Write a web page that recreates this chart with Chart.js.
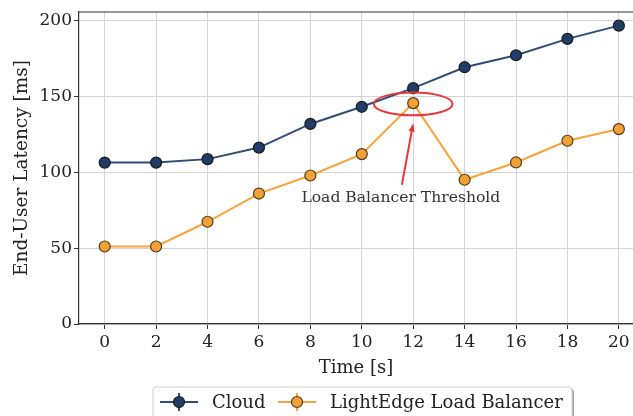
<!DOCTYPE html>
<html>
<head>
<meta charset="utf-8">
<script src="https://cdn.jsdelivr.net/npm/chart.js@4.4.1/dist/chart.umd.min.js"></script>
<style>
  html, body { margin: 0; padding: 0; background: #fff; }
  #wrap { width: 633px; height: 416px; position: relative; }
</style>
</head>
<body>
<div id="wrap"><canvas id="latencyChart"></canvas></div>
<script>
// ── Data ──
const times = [0, 2, 4, 6, 8, 10, 12, 14, 16, 18, 20];
const cloudLatency = [106.4, 106.4, 108.7, 116.3, 131.9, 143.2, 155.5, 169.3, 177.2, 188.0, 196.7];
const lightEdgeLatency = [51.1, 51.1, 67.4, 86.0, 97.9, 112.0, 145.6, 95.1, 106.5, 120.8, 128.5];
const xTicks = [0, 2, 4, 6, 8, 10, 12, 14, 16, 18, 20];
const yTicks = [0, 50, 100, 150, 200];
const seriesNames = ['Cloud', 'LightEdge Load Balancer'];
const annotationText = 'Load Balancer Threshold';

const FONT = "'DejaVu Serif', serif";
const TEXT = '#222';

const cloudStyle = { line: '#2f4d76', fill: '#1f3d66', edge: '#1a1a1a' };
const edgeStyle  = { line: '#f6a43c', fill: '#f3a035', edge: '#4d3b22' };

const toXY = (xs, ys) => xs.map((x, i) => ({ x: x, y: ys[i] }));

// ── Top spine ──
const frameBox = {
    id: 'frameBox',
    afterDraw(chart) {
        const { ctx, chartArea } = chart;
        ctx.save();
        ctx.strokeStyle = '#333';
        ctx.lineWidth = 1.2;
        ctx.beginPath();
        ctx.moveTo(chartArea.left, chartArea.top);
        ctx.lineTo(chartArea.right, chartArea.top);
        ctx.stroke();
        ctx.restore();
    }
};

// ── Threshold annotation: ellipse, arrow, label ──
const thresholdNote = {
    id: 'thresholdNote',
    afterDatasetsDraw(chart) {
        const { ctx, scales: { x, y } } = chart;
        ctx.save();
        ctx.strokeStyle = '#e8363a';
        ctx.fillStyle = '#e8363a';
        ctx.lineWidth = 2;

        // ellipse round the peak
        const cx = x.getPixelForValue(12), cy = y.getPixelForValue(145.1);
        const rx = (x.getPixelForValue(13.53) - x.getPixelForValue(10.47)) / 2;
        const ry = (y.getPixelForValue(137.6) - y.getPixelForValue(152.6)) / 2;
        ctx.beginPath();
        ctx.ellipse(cx, cy, rx, ry, 0, 0, Math.PI * 2);
        ctx.stroke();

        // arrow
        const x0 = x.getPixelForValue(11.56), y0 = y.getPixelForValue(91.8);
        const x1 = x.getPixelForValue(12.0), y1 = y.getPixelForValue(132.4);
        const ang = Math.atan2(y1 - y0, x1 - x0);
        const head = 9;
        ctx.beginPath();
        ctx.moveTo(x0, y0);
        ctx.lineTo(x1 - Math.cos(ang) * 4, y1 - Math.sin(ang) * 4);
        ctx.stroke();
        ctx.beginPath();
        ctx.moveTo(x1, y1);
        ctx.lineTo(x1 - head * Math.cos(ang - 0.35), y1 - head * Math.sin(ang - 0.35));
        ctx.lineTo(x1 - head * Math.cos(ang + 0.35), y1 - head * Math.sin(ang + 0.35));
        ctx.closePath();
        ctx.fill();

        // label
        ctx.fillStyle = '#333';
        ctx.font = `15.6px ${FONT}`;
        ctx.textAlign = 'center';
        ctx.textBaseline = 'middle';
        ctx.fillText(annotationText, x.getPixelForValue(11.52), y.getPixelForValue(83.2));
        ctx.restore();
    }
};

// ── Legend with errorbar-style handles ──
const boxLegend = {
    id: 'boxLegend',
    afterDraw(chart) {
        const { ctx } = chart;
        const left = 153, top = 387, right = 572, bottom = 424;
        ctx.save();
        // shadow
        ctx.fillStyle = 'rgba(0,0,0,0.35)';
        roundRect(ctx, left + 2, top + 2, right - left, bottom - top, 3);
        ctx.fill();
        ctx.fillStyle = '#fff';
        ctx.strokeStyle = '#cfcfcf';
        ctx.lineWidth = 1;
        roundRect(ctx, left, top, right - left, bottom - top, 3);
        ctx.fill();
        ctx.stroke();

        const cyItem = 402;
        const items = [
            { x: 160, style: cloudStyle, label: seriesNames[0] },
            { x: 278, style: edgeStyle, label: seriesNames[1] }
        ];
        items.forEach(it => {
            const mx = it.x + 19;
            ctx.strokeStyle = it.style.line;
            ctx.lineWidth = 2;
            ctx.beginPath();
            ctx.moveTo(it.x, cyItem);
            ctx.lineTo(it.x + 38, cyItem);
            ctx.moveTo(mx, cyItem - 9);
            ctx.lineTo(mx, cyItem + 9);
            ctx.stroke();
            ctx.beginPath();
            ctx.arc(mx, cyItem, 5.5, 0, Math.PI * 2);
            ctx.fillStyle = it.style.fill;
            ctx.fill();
            ctx.strokeStyle = it.style.edge;
            ctx.lineWidth = 1.2;
            ctx.stroke();
            ctx.fillStyle = TEXT;
            ctx.font = `18px ${FONT}`;
            ctx.textAlign = 'left';
            ctx.textBaseline = 'middle';
            ctx.fillText(it.label, it.x + 52, cyItem + 1);
        });
        ctx.restore();
    }
};

function roundRect(ctx, x, y, w, h, r) {
    ctx.beginPath();
    ctx.moveTo(x + r, y);
    ctx.lineTo(x + w - r, y);
    ctx.quadraticCurveTo(x + w, y, x + w, y + r);
    ctx.lineTo(x + w, y + h - r);
    ctx.quadraticCurveTo(x + w, y + h, x + w - r, y + h);
    ctx.lineTo(x + r, y + h);
    ctx.quadraticCurveTo(x, y + h, x, y + h - r);
    ctx.lineTo(x, y + r);
    ctx.quadraticCurveTo(x, y, x + r, y);
    ctx.closePath();
}

const gridStyle = {
    color: '#d4d4d4',
    lineWidth: 1,
    borderDash: [1, 2],
    tickColor: '#333',
    tickLength: 5,
    tickWidth: 1,
    tickBorderDash: []
};

function makeSeries(label, data, s) {
    return {
        label: label,
        data: data,
        borderColor: s.line,
        borderWidth: 2,
        pointRadius: 5.5,
        pointHoverRadius: 5.5,
        pointBackgroundColor: s.fill,
        pointBorderColor: s.edge,
        pointBorderWidth: 1.2,
        tension: 0,
        fill: false
    };
}

new Chart(document.getElementById('latencyChart'), {
    type: 'line',
    data: {
        datasets: [
            makeSeries(seriesNames[0], toXY(times, cloudLatency), cloudStyle),
            makeSeries(seriesNames[1], toXY(times, lightEdgeLatency), edgeStyle)
        ]
    },
    options: {
        responsive: true,
        maintainAspectRatio: false,
        animation: false,
        devicePixelRatio: 1,
        layout: { autoPadding: false, padding: { top: 12, right: 0, bottom: 37, left: 0 } },
        plugins: {
            legend: { display: false },
            tooltip: { enabled: false }
        },
        scales: {
            x: {
                type: 'linear',
                min: -1,
                max: 20.55,
                grid: gridStyle,
                border: { display: true, color: '#333', width: 1.2 },
                afterBuildTicks: axis => { axis.ticks = xTicks.map(v => ({ value: v })); },
                afterFit: axis => {
                    axis.height = 55;
                    axis.paddingLeft = 0;
                    axis.paddingRight = 0;
                },
                ticks: {
                    font: { family: FONT, size: 17 },
                    color: TEXT,
                    padding: 3,
                    maxRotation: 0,
                    autoSkip: false
                },
                title: {
                    display: true,
                    text: 'Time [s]',
                    font: { family: FONT, size: 18 },
                    color: TEXT,
                    padding: { top: 0, bottom: 0 }
                }
            },
            y: {
                min: 0,
                max: 205.7,
                grid: gridStyle,
                border: { display: true, color: '#333', width: 1.2 },
                afterBuildTicks: axis => { axis.ticks = yTicks.map(v => ({ value: v })); },
                afterFit: axis => {
                    axis.width = 79;
                    axis.paddingTop = 0;
                    axis.paddingBottom = 0;
                },
                ticks: {
                    font: { family: FONT, size: 17 },
                    color: TEXT,
                    padding: 2
                },
                title: {
                    display: true,
                    text: 'End-User Latency [ms]',
                    font: { family: FONT, size: 18.5 },
                    color: TEXT,
                    padding: { top: 11, bottom: 0 }
                }
            }
        }
    },
    plugins: [frameBox, thresholdNote, boxLegend]
});
</script>
</body>
</html>
